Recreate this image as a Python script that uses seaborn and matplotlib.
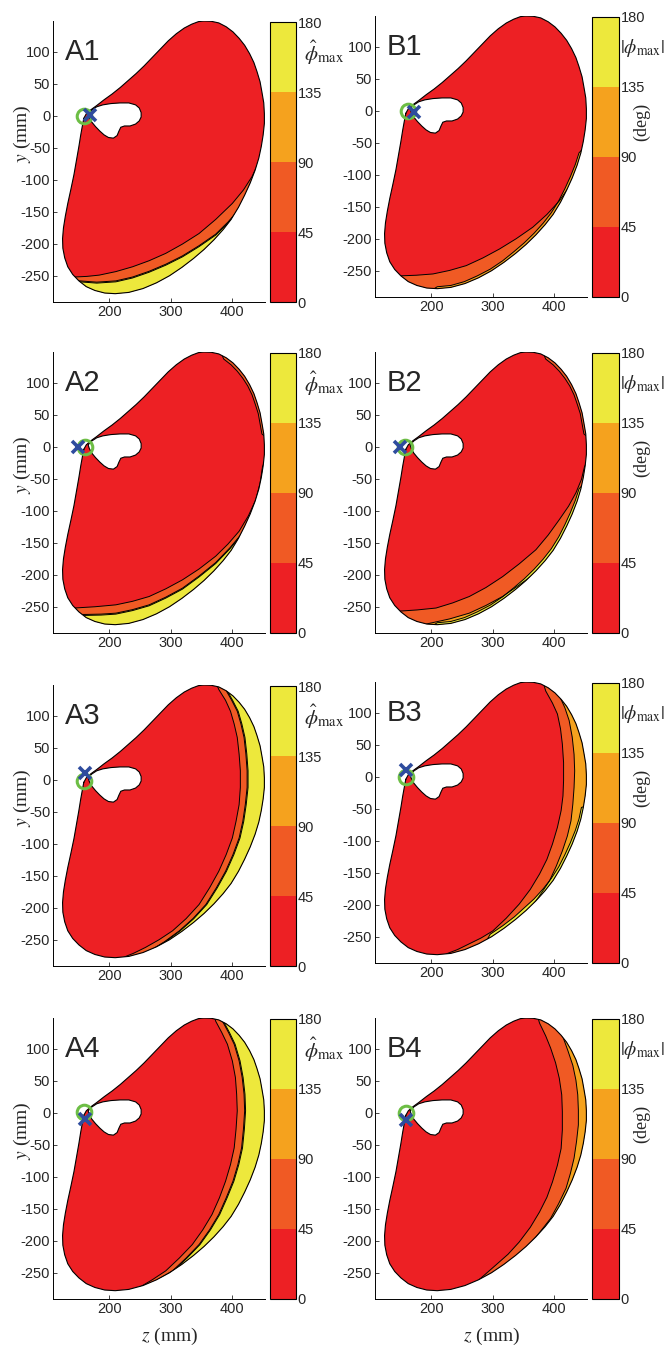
import matplotlib
matplotlib.use("Agg")
import matplotlib.pyplot as plt
import seaborn as sns
from matplotlib.colors import ListedColormap, BoundaryNorm
from matplotlib.cm import ScalarMappable

# workspace outline (z, y) in mm, going from the tip near the origin up to the top, then clockwise
OUTLINE = [(159, -4), (163, 3), (170, 9), (180, 16), (192, 25), (205, 34), (218, 44), (231, 55),
           (244, 66), (257, 78), (270, 91), (283, 104), (296, 117), (309, 128), (322, 137),
           (334, 143), (345, 147), (354, 148), (366, 147.5), (378, 145), (390, 139), (401, 131),
           (411, 121), (420, 110), (428, 97), (435, 83), (440, 69), (445, 53), (448, 37),
           (451, 20), (452, 3), (452, -12), (450, -30), (447, -48), (443, -66), (437, -85),
           (429, -105), (420, -124), (410, -143), (398, -162), (385, -178), (370, -194),
           (354, -209), (337, -223), (318, -237), (298, -250), (277, -261), (255, -270),
           (232, -276), (210, -278), (193, -277), (177, -273), (163, -267), (151, -258),
           (141, -248), (133, -236), (128, -222), (125, -207), (124.5, -192), (126, -175),
           (129, -157), (133, -137), (138, -115), (143, -92), (147, -70), (151, -48),
           (154, -30), (157, -14)]

# white lobe inside the workspace
HOLE = [(166, 3), (172, 9), (180, 14), (190, 17), (203, 19), (218, 20), (232, 20), (243, 17),
        (249, 12), (252, 5), (252, -2), (249, -8), (243, -13), (234, -16), (225, -16),
        (219, -18), (216, -24), (213, -31), (207, -35), (199, -34), (192, -30), (185, -24),
        (178, -17), (172, -10), (168, -3)]

PHI_TICKS = [0, 45, 90, 135, 180]
PHI_COLORS = ["#ED2024", "#F05A24", "#F5A21E", "#EDE83C"]

# level boundaries (45, 90, 135 deg)
A1_45 = [(118, -253), (143, -252), (164, -251), (184, -249), (211, -243.5), (238, -236),
         (265, -226.5), (292, -215), (319, -200.5), (346, -184), (373, -162), (400, -137),
         (418, -116), (432, -95), (443, -72), (451, -48), (458, -25), (470, -10)]
A1_90 = [(118, -258), (152, -258), (180, -260), (211, -258), (238, -252), (265, -243),
         (292, -232), (319, -219), (346, -203), (373, -185), (393, -166), (411, -146),
         (426, -123), (438, -99), (446, -74), (451, -52), (470, -40)]
A1_135 = [(118, -259.5), (152, -259.5), (180, -261.5), (211, -259.5), (238, -253.5),
          (265, -244.5), (292, -233.5), (319, -220.5), (346, -204.5), (373, -186.5),
          (393, -167.5), (411, -147.5), (426, -124.5), (438, -100.5), (446, -75.5),
          (451, -53.5), (470, -41.5)]

A2_45 = [(118, -253), (143, -252), (177, -250), (211, -247), (238, -241.5), (265, -234),
         (292, -222), (319, -208), (346, -191), (373, -171), (393, -152), (411, -132),
         (426, -108), (438, -83), (445, -57), (449, -31), (458, -10)]
A2_90 = [(118, -262), (162, -262), (187, -261.5), (211, -260), (238, -254.5), (265, -247),
         (292, -235), (319, -221), (346, -202), (373, -181), (396, -158), (416, -135),
         (430, -112), (440, -88), (447, -62), (450, -36), (460, -20)]
A2_135 = [(118, -263.5), (162, -263.5), (187, -263), (211, -261.5), (238, -256), (265, -248.5),
          (292, -236.5), (319, -222.5), (346, -203.5), (373, -182.5), (396, -159.5),
          (416, -136.5), (430, -113.5), (440, -89.5), (447, -63.5), (450, -37.5), (460, -21.5)]
TOP_45 = [(378, 155), (386, 137), (398, 128), (408, 118), (417, 107), (425, 95), (432, 81),
          (437, 67), (442, 52), (445, 36), (448, 20), (460, 10)]

A3_45 = [(370, 160), (378, 141), (389, 124), (397, 107), (403, 87), (408, 66), (411, 40),
         (413, 14), (413, -12), (411, -39), (406, -65), (400, -91), (390, -117), (378, -143),
         (363, -169), (346, -195), (325, -217), (303, -236), (281, -250), (259, -262),
         (240, -271), (222, -278), (210, -295)]
A3_90 = [(382, 160), (389, 141), (399, 124), (408, 107), (414, 87), (419, 66), (422, 40),
         (424, 14), (424, -12), (421, -39), (417, -65), (411, -91), (401, -117), (389, -143),
         (374, -169), (357, -195), (336, -217), (314, -236), (290, -253), (265, -268),
         (248, -275), (232, -280), (222, -295)]
A3_135 = [(383.5, 160), (390.5, 141), (400.5, 124), (409.5, 107), (415.5, 87), (420.5, 66),
          (423.5, 40), (425.5, 14), (425.5, -12), (422.5, -39), (418.5, -65), (412.5, -91),
          (402.5, -117), (390.5, -143), (375.5, -169), (358.5, -195), (337.5, -217),
          (315.5, -236), (291.5, -253), (266.5, -268), (249.5, -275), (233.5, -280),
          (223.5, -295)]

A4_45 = [(368, 160), (373, 143), (383, 125), (392, 107), (400, 81), (405, 55), (407, 29),
         (408, 3), (406, -26), (403, -55), (397, -81), (389, -107), (379, -133), (367, -159),
         (352, -183), (335, -206), (314, -227), (292, -247), (270, -261), (249, -273),
         (235, -295)]
A4_90 = [(380, 160), (384, 143), (394, 125), (403, 107), (411, 81), (416, 55), (419, 29),
         (420, 3), (418, -26), (415, -55), (409, -81), (401, -107), (390, -133), (378, -159),
         (363, -183), (346, -206), (325, -227), (303, -247), (279, -261), (257, -273),
         (243, -295)]
A4_135 = [(381.5, 160), (385.5, 143), (395.5, 125), (404.5, 107), (412.5, 81), (417.5, 55),
          (420.5, 29), (421.5, 3), (419.5, -26), (416.5, -55), (410.5, -81), (402.5, -107),
          (391.5, -133), (379.5, -159), (364.5, -183), (347.5, -206), (326.5, -227),
          (304.5, -247), (280.5, -261), (258.5, -273), (244.5, -295)]

B1_45 = [(118, -258), (149, -258), (176, -257), (203, -255), (230, -249.5), (257, -242),
         (284, -230), (311, -216), (338, -200), (365, -182), (388, -162), (408, -141),
         (423, -120), (435, -99), (445, -78), (451, -57), (470, -35)]
B1_90 = [(185, -290), (210, -275), (232, -273), (254, -267), (275, -258), (296, -247.5),
         (316, -234.5), (334, -220.5), (351, -206.5), (367, -191.5), (382, -175.5),
         (395, -159.5), (407, -141), (417, -122), (426, -103), (434, -84), (440, -66), (455, -50)]

B2_45 = [(118, -258), (146, -257), (177, -255), (208, -252), (235, -244), (262, -234),
         (289, -220), (316, -203), (343, -183), (370, -161), (390, -138), (408, -114),
         (423, -93), (435, -72), (444, -51), (449, -31), (460, -10)]
B2_90 = [(160, -285), (197, -276), (230, -269), (262, -260), (289, -248), (316, -234),
         (343, -216), (370, -197), (390, -177), (408, -156), (423, -133), (435, -109),
         (444, -81), (449, -52), (465, -35)]
B2_135 = [(185, -290), (210, -275), (232, -273), (254, -267), (275, -258), (296, -247.5),
          (316, -234.5), (334, -220.5), (351, -206.5), (367, -191.5), (382, -175.5),
          (395, -159.5), (407, -141), (417, -122), (426, -103), (434, -84), (440, -66), (455, -50)]

B3_45 = [(378, 160), (386, 134), (397, 115), (405, 98), (410, 75), (413, 51), (415, 22),
         (415, -6), (414, -30), (411, -53), (405, -79), (397, -105), (388, -129), (376, -152),
         (361, -176), (343, -199), (322, -221), (300, -241), (281, -252), (262, -261),
         (243, -270), (224, -277), (212, -295)]
B3_90 = [(398, 150), (408, 127), (417, 108), (424, 88), (429, 62), (432, 35), (433, 9),
         (432, -17), (430, -43), (427, -69), (421, -93), (413, -116), (403, -140), (392, -163),
         (376, -186), (359, -209), (338, -228), (316, -246), (295, -260), (273, -272), (250, -290)]
B3_135 = [(470, -40), (444, -48), (440, -66), (434, -84), (426, -103), (417, -122), (407, -141),
          (395, -159), (382, -175), (367, -191), (351, -205), (335, -219), (316, -233),
          (296, -246), (270, -290)]

B4_45 = [(370, 160), (376, 140), (386, 120), (394, 101), (402, 78), (408, 54), (412, 28),
         (413, 2), (413, -27), (411, -56), (405, -82), (397, -108), (388, -132), (376, -155),
         (361, -179), (343, -202), (325, -221), (305, -238), (286, -254), (268, -269), (250, -295)]
B4_90 = [(405, 150), (413, 121), (422, 97), (430, 74), (435, 51), (438, 28), (439, 4),
         (439, -19), (436, -45), (432, -71), (426, -95), (419, -118), (407, -142), (394, -165),
         (377, -186), (359, -207), (338, -226), (316, -243), (300, -255), (290, -270)]

# green circle and blue cross positions, panel order A1, B1, A2, B2, A3, B3, A4, B4
CIRCLE_Z = [160, 162, 161, 158, 159, 159, 159, 159]
CIRCLE_Y = [-1, 0, 0, 0, -2, -1, 1, 0]
CROSS_Z = [169, 173, 149, 149, 161, 160, 161, 160]
CROSS_Y = [1, -2, 0, 0, 11, 10, -10, -11]

PANELS = ["A1", "B1", "A2", "B2", "A3", "B3", "A4", "B4"]
BANDS = {
    "A1": [(1, A1_45, "bottom"), (2, A1_90, "bottom"), (3, A1_135, "bottom")],
    "B1": [(1, B1_45, "bottom"), (2, B1_90, "bottom")],
    "A2": [(1, A2_45, "bottom"), (2, A2_90, "bottom"), (3, A2_135, "bottom"), (1, TOP_45, "top")],
    "B2": [(1, B2_45, "bottom"), (2, B2_90, "bottom"), (3, B2_135, "bottom"), (1, TOP_45, "top")],
    "A3": [(1, A3_45, "right"), (2, A3_90, "right"), (3, A3_135, "right")],
    "B3": [(1, B3_45, "right"), (2, B3_90, "right"), (3, B3_135, "lowerright")],
    "A4": [(1, A4_45, "right"), (2, A4_90, "right"), (3, A4_135, "right")],
    "B4": [(1, B4_45, "right"), (2, B4_90, "right")],
}

sns.set_style("ticks")
plt.rcParams["font.family"] = ["Liberation Sans", "DejaVu Sans"]
plt.rcParams["mathtext.fontset"] = "stix"
plt.rcParams["axes.unicode_minus"] = False

W, H = 665, 1347
fig = plt.figure(figsize=(W / 100, H / 100), dpi=100)


def rect(left, top, w, h):
    return [left / W, 1 - (top + h) / H, w / W, h / H]


def closing(curve, side):
    # close a level boundary on its outer side so the region can be clipped by the outline
    zs = [p[0] for p in curve]
    ys = [p[1] for p in curve]
    if side == "bottom":
        tail = [(520, ys[-1]), (520, -340), (100, -340), (100, ys[0])]
    elif side == "right":
        tail = [(zs[-1], -340), (520, -340), (520, 180), (zs[0], 180)]
    elif side == "lowerright":
        tail = [(zs[-1], -340), (520, -340), (520, ys[0])]
    else:
        tail = [(520, ys[-1]), (520, 180), (zs[0], 180)]
    pts = list(curve) + tail
    return [p[0] for p in pts], [p[1] for p in pts]


TOPS_A = [21, 352, 685, 1018]
TOPS_B = [16, 352, 682, 1018]
cmap = ListedColormap(PHI_COLORS)
norm = BoundaryNorm(PHI_TICKS, cmap.N)
oz = [p[0] for p in OUTLINE]
oy = [p[1] for p in OUTLINE]

for i, name in enumerate(PANELS):
    row, col = i // 2, i % 2
    top = TOPS_A[row] if col == 0 else TOPS_B[row]
    left = 53 if col == 0 else 375
    ax = fig.add_axes(rect(left, top, 212, 281))
    cax = fig.add_axes(rect(left + 217, top + 1, 26 if col == 0 else 27, 280))

    body = ax.fill(oz, oy, color=PHI_COLORS[0], lw=0, zorder=1)[0]

    for lvl, curve, side in BANDS[name]:
        bz, by = closing(curve, side)
        patch = ax.fill(bz, by, color=PHI_COLORS[lvl], lw=0, zorder=2)[0]
        patch.set_clip_path(body)
    for lvl, curve, side in BANDS[name]:
        sns.lineplot(x=[p[0] for p in curve], y=[p[1] for p in curve], sort=False,
                     estimator=None, color="black", lw=0.7, ax=ax, zorder=3)
        ax.lines[-1].set_clip_path(body)

    sns.lineplot(x=oz + [oz[0]], y=oy + [oy[0]], sort=False, estimator=None,
                 color="black", lw=0.8, ax=ax, zorder=4)
    ax.fill([p[0] for p in HOLE], [p[1] for p in HOLE], facecolor="white",
            edgecolor="black", lw=0.8, zorder=4)

    ax.plot(CIRCLE_Z[i], CIRCLE_Y[i], "o", ms=10.5, mfc="none", mec="#6DBE45",
            mew=2.2, zorder=5)
    ax.plot(CROSS_Z[i], CROSS_Y[i], "x", ms=8, mec="#2E4C9E", mew=2.6, zorder=6)

    ax.set_xlim(109, 453)
    ax.set_ylim(-291, 148)
    ax.set_xticks([200, 300, 400])
    ax.set_yticks(list(range(-250, 101, 50)))
    ax.tick_params(direction="in", length=3, width=0.6, labelsize=10.5, pad=2)
    sns.despine(ax=ax)
    for s in ("left", "bottom"):
        ax.spines[s].set_linewidth(0.7)
        ax.spines[s].set_color("black")

    ax.text(0.055, 0.86, name, transform=ax.transAxes, fontsize=21, va="baseline")

    if col == 0:
        ax.set_ylabel(r"$y$ (mm)", family="Liberation Serif", fontsize=14)
        ax.yaxis.set_label_coords(-0.095, 0.6)
    if row == 3:
        ax.set_xlabel(r"$z$ (mm)", family="Liberation Serif", fontsize=14)
        ax.xaxis.set_label_coords(0.55, -0.095)

    cb = fig.colorbar(ScalarMappable(norm=norm, cmap=cmap), cax=cax, ticks=PHI_TICKS)
    cb.outline.set_linewidth(0.8)
    cb.outline.set_edgecolor("black")
    cax.tick_params(direction="in", length=3, width=0.6, labelsize=10.5, pad=1)
    if col == 0:
        cax.text(1.3, 0.89, r"$\hat{\phi}_{\mathrm{max}}$", transform=cax.transAxes,
                 fontsize=15, ha="left", va="center")
    else:
        cax.text(1.05, 0.89, r"$|\phi_{\mathrm{max}}|$", transform=cax.transAxes,
                 fontsize=14, ha="left", va="center")
        cax.text(1.85, 0.625, "(deg)", transform=cax.transAxes, rotation=90,
                 family="Liberation Serif", fontsize=13, ha="center", va="center")

fig.savefig("out.png", dpi=100)
